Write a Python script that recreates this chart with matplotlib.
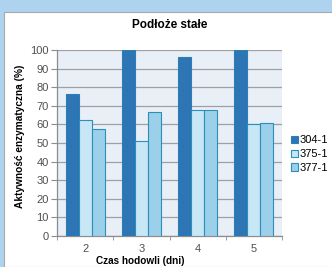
import numpy as np
import matplotlib
matplotlib.use('Agg')
import matplotlib.pyplot as plt
from matplotlib.patches import Rectangle

# ----------------------------------------------------------------- data
days = ['2', '3', '4', '5']
series = ['304-1', '375-1', '377-1']
v_304 = [76.5, 100, 96, 100]
v_375 = [62.5, 51, 67.5, 60]
v_377 = [57.5, 66.5, 67.5, 61]

colors = ['#2e75b6', '#c8e7f6', '#9ccfe9']
edges = ['#2b7fb3', '#2a90ba', '#2a90ba']

plt.rcParams['font.family'] = ['Liberation Sans', 'DejaVu Sans']

W, H = 332, 267
fig = plt.figure(figsize=(W / 100, H / 100), dpi=100)

# window-like frame: blue strip on top and left, white chart area
fig.patches.append(Rectangle((0, 0), 1, 1, transform=fig.transFigure,
                             facecolor='#aed3ef', edgecolor='none', zorder=-3))
fig.patches.append(Rectangle((4 / W, 0), 1, (H - 12) / H, transform=fig.transFigure,
                             facecolor='white', edgecolor='#a9a9a9', lw=0.8, zorder=-2))

ax = fig.add_axes([57 / W, (H - 236) / H, 225 / W, 186 / H])
ax.set_facecolor('#e8eff7')

x = np.arange(len(days))
bw = 0.23
for i, (vals, c, ec) in enumerate(zip([v_304, v_375, v_377], colors, edges)):
    ax.bar(x + (i - 1) * bw, vals, width=bw, color=c, edgecolor=ec,
           linewidth=0.8, label=series[i], zorder=3)

ax.set_xlim(-0.5, len(days) - 0.5)
ax.set_ylim(0, 100)
ax.set_yticks(range(0, 101, 10))
ax.set_xticks(x)
ax.set_xticklabels(days)
ax.set_xticks(np.arange(-0.5, len(days), 1), minor=True)
ax.tick_params(axis='x', which='major', length=0, pad=6)
ax.tick_params(axis='x', which='minor', length=3, color='#8c8c8c')
ax.tick_params(axis='y', length=4, color='#8c8c8c', pad=2)
ax.tick_params(labelsize=8, labelcolor='#505050')
ax.grid(axis='y', color='#a0a0a0', linewidth=0.9, zorder=0)
for s in ['top', 'right']:
    ax.spines[s].set_visible(False)
for s in ['left', 'bottom']:
    ax.spines[s].set_color('#8c8c8c')
    ax.spines[s].set_linewidth(0.9)

fig.text(170 / W, 1 - 25 / H, 'Podłoże stałe', ha='center', va='center',
         fontsize=8.5, fontweight='bold')
fig.text(20 / W, 1 - 136 / H, 'Aktywność enzymatyczna (%)', rotation=90,
         ha='center', va='center', fontsize=7.3, fontweight='bold')
fig.text(140 / W, 1 - 261 / H, 'Czas hodowli (dni)', ha='center', va='center',
         fontsize=7.2, fontweight='bold')

ax.legend(loc='center left', bbox_to_anchor=(291 / W, 1 - 154 / H),
          bbox_transform=fig.transFigure, frameon=False, fontsize=8,
          handlelength=0.6, handleheight=0.6, handletextpad=0.2,
          labelspacing=0.35, borderpad=0, borderaxespad=0)

fig.savefig('out.png', dpi=100)
